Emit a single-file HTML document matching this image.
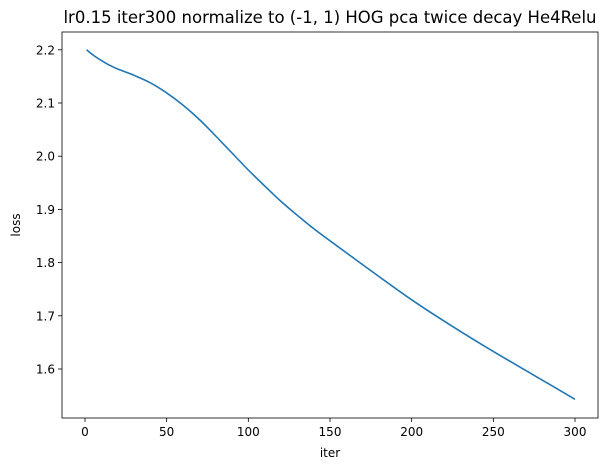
<!DOCTYPE html>
<html><head><meta charset="utf-8"><style>
html,body{margin:0;padding:0;background:#fff;}
svg{display:block;font-family:"DejaVu Sans","Liberation Sans",sans-serif;}
</style></head><body>
<svg id="chart" width="609" height="470" viewBox="0 0 609 470"></svg>
<script>
const iters=[1,5,10,15,20,30,40,50,60,70,80,90,100,110,120,130,140,150,175,200,225,250,275,300];
const loss=[2.2,2.19,2.18,2.171,2.164,2.152,2.138,2.119,2.096,2.069,2.038,2.006,1.974,1.944,1.915,1.889,1.864,1.841,1.785,1.73,1.68,1.633,1.588,1.543];
const xTicks=[0,50,100,150,200,250,300];
const yTicks=[1.6,1.7,1.8,1.9,2.0,2.1,2.2];
const yLabels=["1.6","1.7","1.8","1.9","2.0","2.1","2.2"];
const L=62,R=598,T=32,B=418;
const xs=v=>85+(v-0)*(490/300);
const ys=v=>369-(v-1.6)*532;
const svg=document.getElementById('chart');
const NS='http://www.w3.org/2000/svg';
function mk(t,a,txt){const e=document.createElementNS(NS,t);for(const k in a)e.setAttribute(k,a[k]);if(txt!=null)e.textContent=txt;svg.appendChild(e);return e;}
let e=mk('text',{x:330,y:23,'text-anchor':'middle','font-size':16.5,fill:'#000'},'lr0.15 iter300 normalize to (-1, 1) HOG pca twice decay He4Relu');


xTicks.forEach(v=>{const x=xs(v);
 let t=mk('line',{x1:x,x2:x,y1:B,y2:B+4,stroke:'#000','stroke-width':0.8});
 
 
 let l=mk('text',{x:x,y:B+18,'text-anchor':'middle','font-size':12},String(v));
 
 });
yTicks.forEach((v,i)=>{const y=ys(v);
 let t=mk('line',{x1:L-4,x2:L,y1:y,y2:y,stroke:'#000','stroke-width':0.8});
 
 
 let l=mk('text',{x:L-7,y:y+4.5,'text-anchor':'end','font-size':12},yLabels[i]);
 
 });
// smooth path via Catmull-Rom
const P=iters.map((v,i)=>[xs(v),ys(loss[i])]);
let d='M'+P[0][0].toFixed(1)+','+P[0][1].toFixed(1);
for(let i=0;i<P.length-1;i++){const p0=P[i-1]||P[i],p1=P[i],p2=P[i+1],p3=P[i+2]||P[i+1];
 const c1=[p1[0]+(p2[0]-p0[0])/6,p1[1]+(p2[1]-p0[1])/6],c2=[p2[0]-(p3[0]-p1[0])/6,p2[1]-(p3[1]-p1[1])/6];
 d+=' C'+c1.map(n=>n.toFixed(1)).join(',')+' '+c2.map(n=>n.toFixed(1)).join(',')+' '+p2.map(n=>n.toFixed(1)).join(',');}
let p=mk('path',{d:d,fill:'none',stroke:'#1f77b4','stroke-width':1.6,'stroke-linejoin':'round'});


let f=mk('rect',{x:L,y:T,width:R-L,height:B-T,fill:'none',stroke:'#000','stroke-width':0.8});


let xt=mk('text',{x:330,y:457,'text-anchor':'middle','font-size':12},'iter');


let yt=mk('text',{x:20,y:225,'text-anchor':'middle','font-size':12,transform:'rotate(-90 20 225)'},'loss');


</script>
</body></html>
